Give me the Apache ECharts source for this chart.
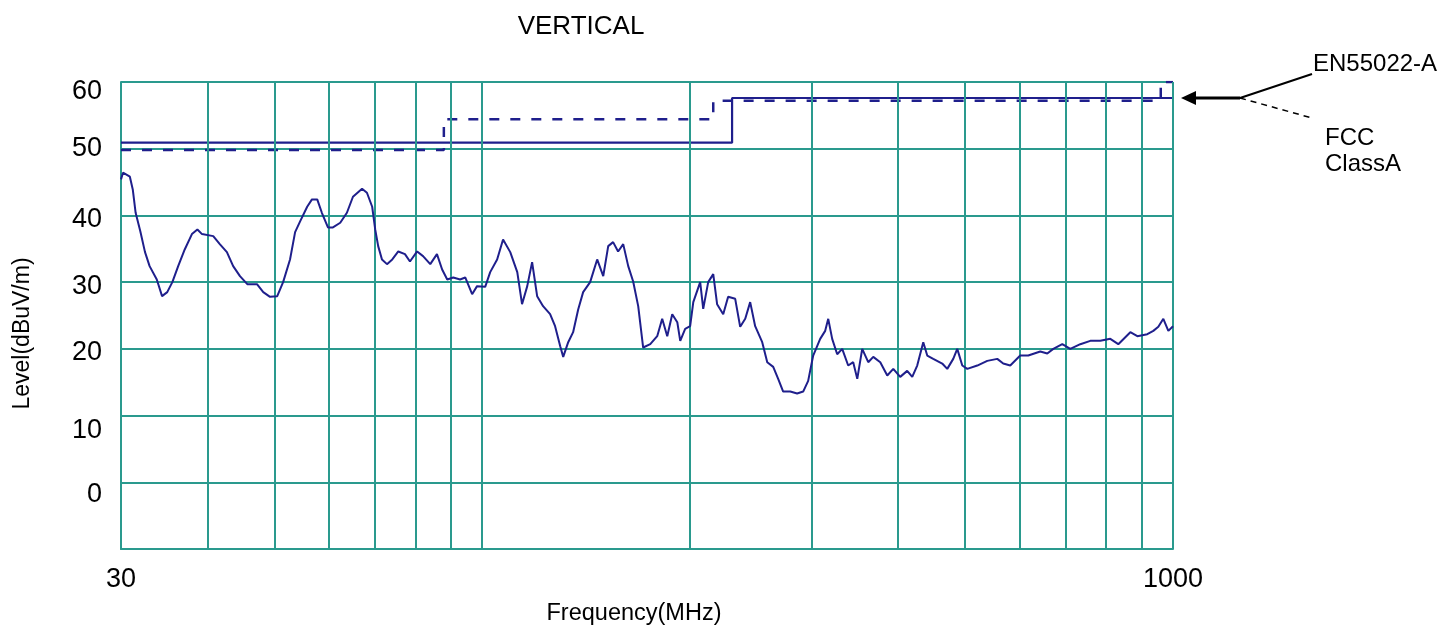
<!DOCTYPE html>
<html>
<head>
<meta charset="utf-8">
<script src="https://cdn.jsdelivr.net/npm/echarts@6/dist/echarts.min.js"></script>
<style>html,body{margin:0;padding:0;background:#fff}#c{width:1455px;height:627px}</style>
</head>
<body>
<div id="c"></div>
<script>
// Measured trace (frequency in MHz, level in dBuV/m)
const freqs = [30,30.2,30.9,31.2,31.5,32.0,32.5,33.0,33.8,34.4,35.0,35.6,36.3,37.1,38.0,38.7,39.3,40.8,41.7,42.7,43.6,44.6,45.7,47.2,48.2,49.3,50.5,51.5,52.7,53.6,54.5,55.8,56.7,57.7,58.6,59.8,60.8,62.3,63.7,65.0,67.0,68.1,69.3,70.0,70.7,71.6,72.8,74.1,75.6,77.3,78.6,80.5,82.1,84.1,86.0,87.5,89.0,90.8,92.9,94.5,96.7,98.3,101.0,102.7,105.1,107.2,109.8,112.4,114.2,116.2,118.1,120.1,122.5,125.4,127.5,129.7,131.0,133.2,135.4,137.7,140.0,143.3,146.7,149.7,152.2,154.7,157.3,160.0,162.7,165.4,168.2,171.0,175.1,179.2,182.2,185.3,188.4,191.6,193.5,196.7,200.0,202.1,206.8,208.9,212.4,216.0,218.8,223.3,227.0,232.4,236.3,240.3,244.3,248.4,254.3,258.6,263.8,268.2,272.7,279.2,285.7,291.5,296.4,301.4,308.5,313.7,316.9,321.1,326.5,332.0,338.7,344.4,349.1,354.9,362.1,368.2,376.9,385.8,393.6,402.8,412.3,419.3,426.3,435.0,440.8,449.7,463.4,471.2,480.7,487.2,495.4,503.7,520.8,538.4,556.7,567.9,581.3,601.0,617.3,642.5,657.7,671.0,691.4,710.1,734.2,759.1,784.8,811.4,833.3,867.4,887.9,917.9,936.5,952.3,968.3,984.6,1000];
const levels = [45.4,46.4,45.8,43.9,40.4,37.6,34.5,32.4,30.4,27.9,28.5,30.0,32.4,34.9,37.2,37.9,37.2,36.9,35.7,34.5,32.4,30.9,29.7,29.7,28.5,27.8,27.9,30.0,33.4,37.5,39.1,41.3,42.4,42.4,40.4,38.2,38.2,38.9,40.4,42.8,44.0,43.4,41.3,37.9,35.4,33.4,32.7,33.4,34.6,34.2,33.1,34.6,33.9,32.7,34.2,31.9,30.4,30.7,30.4,30.7,28.2,29.4,29.3,31.5,33.4,36.4,34.5,31.5,26.7,29.4,33.0,27.9,26.4,25.2,23.4,20.4,18.8,21.0,22.5,25.9,28.5,30.0,33.4,30.9,35.4,36.0,34.6,35.7,32.4,30.1,26.4,20.2,20.7,21.9,24.5,21.9,25.2,24.0,21.2,23.0,23.4,27.0,30.0,26.0,30.0,31.2,26.7,25.2,27.8,27.5,23.3,24.5,27.0,23.4,21.0,18.0,17.3,15.5,13.6,13.6,13.3,13.6,15.2,19.0,21.5,22.7,24.5,21.5,19.2,20.0,17.5,18.0,15.5,20.0,18.0,18.8,18.0,16.0,17.0,15.8,16.7,15.8,17.5,21.0,19.0,18.5,17.8,17.0,18.5,20.0,17.5,17.0,17.5,18.2,18.5,17.8,17.5,19.0,19.0,19.6,19.3,20.0,20.7,20.0,20.7,21.2,21.2,21.5,20.7,22.5,21.9,22.2,22.7,23.3,24.5,22.7,23.4];

// Limit lines
const enFreqs = [30,230,230,1000];
const enLevels = [50.9,50.9,57.6,57.6];
const fccFreqs = [30,88,88,216,216,960,960,1000];
const fccLevels = [49.8,49.8,54.4,54.4,57.2,57.2,60,60];

// Axis ticks
const yTicks = [0,10,20,30,40,50,60];
const xLabels = [30,1000];
const xGridFreqs = [40,50,60,70,80,90,100,200,300,400,500,600,700,800,900,1000];

// Styling (label nudges in px, as in the original figure)
const yLabelNudge = {60:10, 50:0, 40:4, 30:4, 20:4, 10:15, 0:12};
const TEAL = '#2a9a8e';
const NAVY = '#1f1f8c';
const FONT = '"Liberation Sans", Arial, sans-serif';

const zip = (a,b) => a.map((v,i)=>[v,b[i]]);
const rich = {};
Object.keys(yLabelNudge).forEach(k=>{
  const n = yLabelNudge[k];
  rich['v'+k] = {fontFamily:FONT, fontSize:27, color:'#000',
    padding: n >= 0 ? [2*n,0,0,0] : [0,0,-2*n,0]};
});

const chart = echarts.init(document.getElementById('c'), null, {renderer:'canvas'});
chart.setOption({
  animation:false,
  backgroundColor:'#fff',
  title:{text:'VERTICAL', left:576, top:9, textAlign:'center',
    textStyle:{fontFamily:FONT, fontSize:26, fontWeight:'normal', color:'#000'}},
  grid:{left:121, right:282, top:82, bottom:78, outerBoundsMode:'none', containLabel:false},
  xAxis:{type:'log', logBase:10, min:30, max:1000,
    name:'Frequency(MHz)', nameLocation:'middle', nameGap:53,
    nameTextStyle:{fontFamily:FONT, fontSize:23.5, color:'#000', padding:[0,26,0,0]},
    axisLine:{show:true, onZero:false, lineStyle:{color:TEAL, width:2}},
    axisTick:{show:false},
    splitLine:{show:false},
    minorSplitLine:{show:false},
    axisLabel:{customValues:xLabels, fontFamily:FONT, fontSize:27, color:'#000', margin:17,
      formatter:v=>String(Math.round(v))}
  },
  yAxis:{type:'value', min:-10, max:60, interval:10,
    name:'Level(dBuV/m)', nameLocation:'middle', nameGap:87, nameRotate:90,
    nameTextStyle:{fontFamily:FONT, fontSize:23, color:'#000', padding:[0,36,0,0]},
    axisLine:{show:true, lineStyle:{color:TEAL, width:2}},
    axisTick:{show:false},
    splitLine:{show:true, lineStyle:{color:TEAL, width:2}},
    axisLabel:{fontFamily:FONT, fontSize:27, color:'#000', margin:19, rich:rich,
      formatter:v=> yTicks.indexOf(v) >= 0 ? ('{v'+v+'|'+v+'}') : ''}
  },
  series:[
    {type:'line', data:[], silent:true, z:1,
      markLine:{silent:true, symbol:'none', label:{show:false},
        lineStyle:{color:TEAL, width:2, type:'solid'},
        data:xGridFreqs.map(f=>({xAxis:f}))}},
    {type:'line', name:'FCC ClassA', data:zip(fccFreqs,fccLevels), showSymbol:false, z:3,
      lineStyle:{color:NAVY, width:2.5, type:[10,11]}},
    {type:'line', name:'EN55022-A', data:zip(enFreqs,enLevels), showSymbol:false, z:4,
      lineStyle:{color:NAVY, width:2.2}},
    {type:'line', name:'Level', data:zip(freqs,levels), showSymbol:false, z:5,
      lineStyle:{color:NAVY, width:2}}
  ],
  graphic:[
    {type:'polyline', shape:{points:[[1240,98],[1312,74]]}, style:{stroke:'#000', lineWidth:2}},
    {type:'polyline', shape:{points:[[1240,98],[1312,118]]}, style:{stroke:'#000', lineWidth:1.5, lineDash:[6,5]}},
    {type:'polyline', shape:{points:[[1240,98],[1190,98]]}, style:{stroke:'#000', lineWidth:3}},
    {type:'polygon', shape:{points:[[1181,98],[1196,91],[1196,105]]}, style:{fill:'#000'}},
    {type:'text', left:1313, top:52, style:{text:'EN55022-A', fontFamily:FONT, fontSize:24, fill:'#000'}},
    {type:'text', left:1325, top:126, style:{text:'FCC', fontFamily:FONT, fontSize:24, fill:'#000'}},
    {type:'text', left:1325, top:152, style:{text:'ClassA', fontFamily:FONT, fontSize:24, fill:'#000'}}
  ]
});
</script>
</body>
</html>
